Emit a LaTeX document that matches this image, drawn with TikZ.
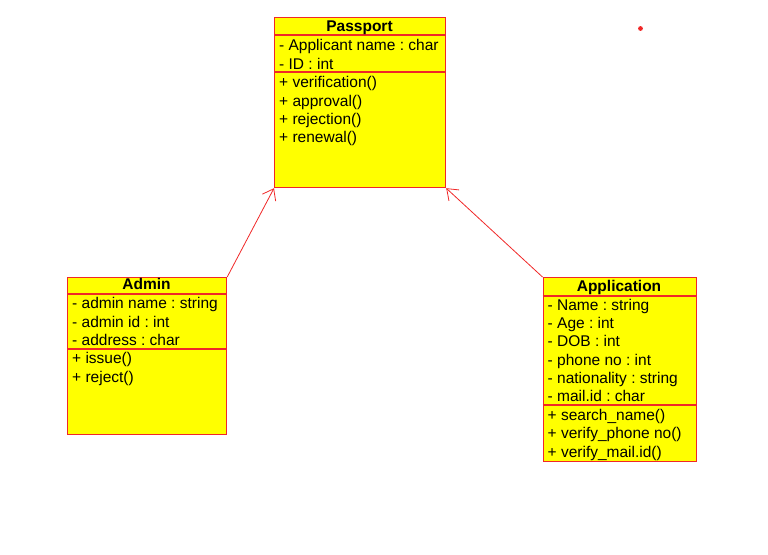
\documentclass[tikz,border=0pt]{standalone}
\usepackage{fontspec}
\setmainfont{Liberation Sans}
\usepackage{tikz}
\usetikzlibrary{arrows.meta}
\definecolor{umlred}{RGB}{240,40,40}
\definecolor{umlyellow}{RGB}{255,255,0}
\tikzset{
  >={Straight Barb[length=10pt,width=15pt]},
  x=1pt, y=-1pt,
}
\tikzstyle{classbox}=[draw=umlred,line width=1.2pt,fill=umlyellow,inner sep=0pt,anchor=north west]
\tikzstyle{sep}=[umlred,line width=1.2pt]
\tikzstyle{title}=[font=\fontsize{15.5}{18}\selectfont\bfseries,anchor=base,inner sep=0pt]
\tikzstyle{member}=[font=\fontsize{15.5}{18}\selectfont,anchor=base west,inner sep=0pt]
\tikzstyle{inherit}=[umlred,line width=0.8pt,->]
\frenchspacing

\begin{document}
\begin{tikzpicture}
    \useasboundingbox (0,0) rectangle (768,554);
    % Passport
    \node[classbox,minimum width=171,minimum height=170] (passport) at (274,17) {};
    \draw[sep] (274,35)--(445,35);
    \draw[sep] (274,72)--(445,72);
    \node[title] (pt) at (359.5,31) {Passport};
    \node[member] (p1) at (279,50.5) {- Applicant name : char};
    \node[member] (p2) at (279,69) {- ID : int};
    \node[member] (p3) at (279,87.5) {+ verification()};
    \node[member] (p4) at (279,106) {+ approval()};
    \node[member] (p5) at (279,124) {+ rejection()};
    \node[member] (p6) at (279,142.5) {+ renewal()};
    % Admin
    \node[classbox,minimum width=159,minimum height=157] (admin) at (67,277) {};
    \draw[sep] (67,294)--(226,294);
    \draw[sep] (67,349)--(226,349);
    \node[title] (at) at (146.5,289.5) {Admin};
    \node[member] (a1) at (72,308.5) {- admin name : string};
    \node[member] (a2) at (72,327) {- admin id : int};
    \node[member] (a3) at (72,345) {- address : char};
    \node[member] (a4) at (72,363.5) {+ issue()};
    \node[member] (a5) at (72,382) {+ reject()};
    % Application
    \node[classbox,minimum width=153,minimum height=184] (application) at (542.5,277) {};
    \draw[sep] (542.5,296)--(695.5,296);
    \draw[sep] (542.5,405)--(695.5,405);
    \node[title] (apt) at (619,291) {Application};
    \node[member] (b1) at (547.5,310) {- Name : string};
    \node[member] (b2) at (547.5,328.5) {- Age : int};
    \node[member] (b3) at (547.5,346.5) {- DOB : int};
    \node[member] (b4) at (547.5,365) {- phone no : int};
    \node[member] (b5) at (547.5,383.5) {- nationality : string};
    \node[member] (b6) at (547.5,401.5) {- mail.id : char};
    \node[member] (b7) at (547.5,420) {+ search\_name()};
    \node[member] (b8) at (547.5,438.5) {+ verify\_phone no()};
    \node[member] (b9) at (547.5,457) {+ verify\_mail.id()};
    % generalisation
    \draw[inherit] (admin.north east)--(passport.south west);
    \draw[inherit] (application.north west)--(passport.south east);
    \fill[umlred] (640.5,28.5) circle (2.4);
\end{tikzpicture}
\end{document}
